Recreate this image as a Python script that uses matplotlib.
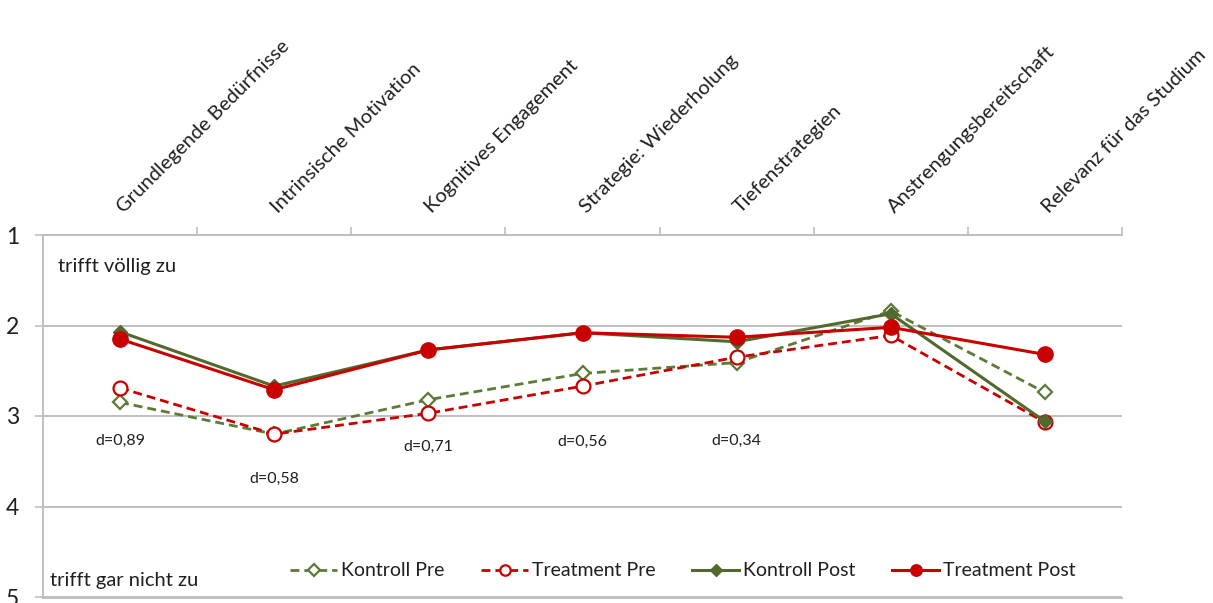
import matplotlib
matplotlib.use("Agg")
import matplotlib.pyplot as plt
from matplotlib.transforms import offset_copy

plt.rcParams['font.family'] = ['Lato', 'DejaVu Sans']

categories = [
    "Grundlegende Bedürfnisse",
    "Intrinsische Motivation",
    "Kognitives Engagement",
    "Strategie: Wiederholung",
    "Tiefenstrategien",
    "Anstrengungsbereitschaft",
    "Relevanz für das Studium",
]
kontroll_pre = [2.85, 3.20, 2.82, 2.53, 2.41, 1.84, 2.74]
treatment_pre = [2.69, 3.20, 2.97, 2.67, 2.35, 2.11, 3.07]
kontroll_post = [2.07, 2.67, 2.27, 2.08, 2.18, 1.87, 3.06]
treatment_post = [2.15, 2.71, 2.27, 2.08, 2.13, 2.02, 2.32]
effect_labels = ["d=0,89", "d=0,58", "d=0,71", "d=0,56", "d=0,34"]
y_ticks = [1, 2, 3, 4, 5]

# where the effect sizes sit (x index, y on the scale)
effect_pos = [(0, 3.27), (1, 3.70), (2, 3.34), (3, 3.29), (4, 3.27)]

GREEN = "#51692C"
GREEN_L = "#5D7A37"
RED = "#C80000"
GRID = "#BFBFBF"
TXT = "#1F1F1F"

fig = plt.figure(figsize=(12.13, 6.03), dpi=100)
W, H = 1213, 603
x0, x1, ytop, ybot = 43, 1122, 235, 597
ax = fig.add_axes([x0 / W, (H - ybot) / H, (x1 - x0) / W, (ybot - ytop) / H])

x = list(range(len(categories)))
dash = (0, (3.2, 1.8))
ax.plot(x, kontroll_pre, linestyle=dash, color=GREEN_L, lw=2.0,
        marker="D", ms=7.5, mfc="white", mec=GREEN_L, mew=1.6, label="Kontroll Pre", zorder=3)
ax.plot(x, treatment_pre, linestyle=dash, color=RED, lw=2.0,
        marker="o", ms=10, mfc="white", mec=RED, mew=1.6, label="Treatment Pre", zorder=3)
ax.plot(x, kontroll_post, linestyle="-", color=GREEN, lw=2.2,
        marker="D", ms=7.5, mfc=GREEN, mec=GREEN, label="Kontroll Post", zorder=4)
ax.plot(x, treatment_post, linestyle="-", color=RED, lw=2.2,
        marker="o", ms=11, mfc=RED, mec=RED, label="Treatment Post", zorder=5)

ax.set_xlim(-0.5, len(categories) - 0.5)
ax.set_ylim(5, 1)

# horizontal grid at the inner scale points
for v in y_ticks[1:]:
    ax.axhline(v, color=GRID, lw=1.4, zorder=1)

ax.spines["right"].set_visible(False)
ax.spines["bottom"].set_visible(False)
for side in ("left", "top"):
    ax.spines[side].set_color(GRID)
    ax.spines[side].set_linewidth(1.4)

ax.set_yticks(y_ticks)
ax.set_yticklabels([str(t) for t in y_ticks], fontsize=16.5, color=TXT)
ax.tick_params(axis="y", length=6, color=GRID, width=1.2, pad=11)

# category ticks sit on the upper axis at the group boundaries
ax.xaxis.tick_top()
ax.set_xticks([i + 0.5 for i in range(len(categories))])
ax.set_xticklabels([])
ax.tick_params(axis="x", length=6, color=GRID, width=1.2, direction="out")

lab_tr = offset_copy(ax.get_xaxis_transform(), fig=fig, x=4, y=21, units="dots")
for i, c in enumerate(categories):
    ax.text(i, 1.0, c, transform=lab_tr, rotation=45, rotation_mode="anchor",
            ha="left", va="baseline", fontsize=14.5, color=TXT)

for (xi, yv), t in zip(effect_pos, effect_labels):
    ax.text(xi, yv, t, ha="center", va="center", fontsize=11.5, color=TXT)

ax.text(58 / W, (H - 272) / H, "trifft völlig zu", transform=fig.transFigure,
        ha="left", va="baseline", fontsize=14.5, color=TXT)
ax.text(50 / W, (H - 586) / H, "trifft gar nicht zu", transform=fig.transFigure,
        ha="left", va="baseline", fontsize=14.5, color=TXT)

fig.lines.append(plt.Line2D([x0 / W, x1 / W], [(H - 598) / H] * 2,
                            transform=fig.transFigure, color=GRID, lw=1.4))

leg = ax.legend(loc="center", bbox_to_anchor=(683 / W, (H - 571) / H),
                bbox_transform=fig.transFigure, ncol=4, frameon=False,
                fontsize=14, handlelength=2.4, columnspacing=1.9, handletextpad=0.2,
                markerscale=0.75)
for t in leg.get_texts():
    t.set_color(TXT)

fig.savefig("out.png", dpi=100, facecolor="white")
